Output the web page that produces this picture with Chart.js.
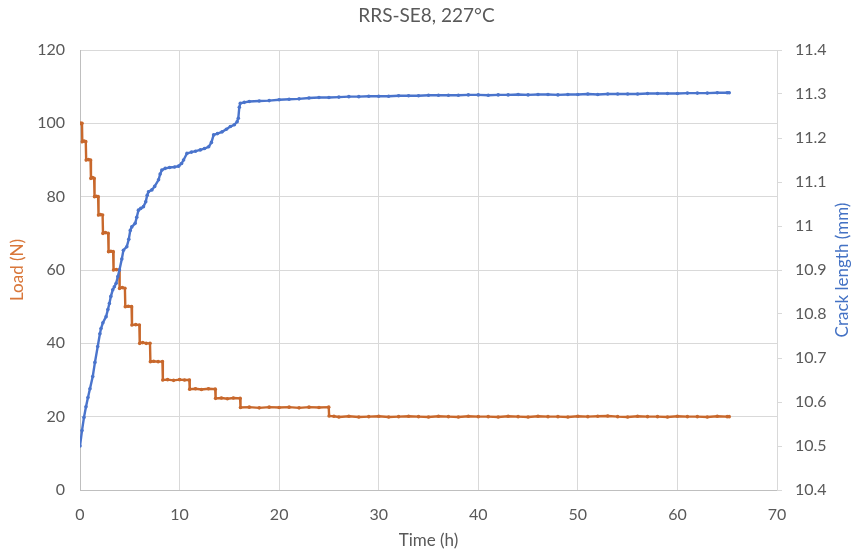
<!DOCTYPE html>
<html>
<head>
<meta charset="utf-8">
<script src="https://cdn.jsdelivr.net/npm/chart.js@4/dist/chart.umd.min.js"></script>
<style>
html,body{margin:0;padding:0;background:#fff;}
#c{display:block;}
</style>
</head>
<body>
<canvas id="c" width="853" height="555"></canvas>
<script>
// ---- data ----
const chartTitle = 'RRS-SE8, 227°C';
const xTitle = 'Time (h)';
const loadTitle = 'Load (N)';
const crackTitle = 'Crack length (mm)';

const timeTicks = [0, 10, 20, 30, 40, 50, 60, 70];
const loadTicks = [0, 20, 40, 60, 80, 100, 120];
const crackTicks = [10.4, 10.5, 10.6, 10.7, 10.8, 10.9, 11.0, 11.1, 11.2, 11.3, 11.4];

const loadTime = [
  0, 0.1, 0.2,
  0.23, 0.4, 0.58,
  0.62, 0.85, 1.06,
  1.1, 1.25, 1.42,
  1.46, 1.65, 1.82,
  1.86, 2.05, 2.27,
  2.31, 2.55, 2.83,
  2.87, 3.1, 3.33,
  3.37, 3.65, 3.94,
  3.98, 4.25, 4.51,
  4.55, 4.85, 5.18,
  5.22, 5.6, 5.96,
  6.0, 6.3, 6.65, 7.03,
  7.07, 7.4, 7.85, 8.28,
  8.32, 8.8, 9.4, 10.0, 10.5, 10.98,
  11.02, 11.6, 12.2, 12.9, 13.58,
  13.62, 14.2, 14.8, 15.4, 16.08,
  16.12, 17, 18, 19, 20, 21, 22, 23, 24, 24.98,
  25.02, 25.5, 26, 27, 28, 29, 30, 31, 32, 33, 34, 35, 36, 37, 38, 39, 40,
  41, 42, 43, 44, 45, 46, 47, 48, 49, 50, 51, 52, 53, 54, 55, 56, 57, 58,
  59, 60, 61, 62, 63, 64, 65, 65.2
];
const loadN = [
  100, 100, 100,
  95, 95.2, 95,
  90, 90.1, 90,
  85, 85.2, 85,
  80, 80.1, 80,
  75, 75.1, 75,
  70, 70.2, 70,
  65, 65.1, 65,
  60, 60.1, 60,
  55, 55.2, 55,
  50, 50.1, 50,
  45, 45.1, 45,
  40, 40.2, 40, 40,
  35, 35.1, 35, 35,
  30, 30.1, 29.9, 30.1, 30, 30,
  27.5, 27.6, 27.4, 27.6, 27.5,
  25, 25.1, 24.9, 25.1, 25,
  22.5, 22.6, 22.4, 22.6, 22.5, 22.6, 22.4, 22.6, 22.5, 22.6,
  20.2, 20.1, 19.9, 20.1, 19.9, 20.0, 20.1, 19.9, 20.0, 20.1, 20.0, 19.9, 20.1, 20.0, 19.9, 20.1, 20.0,
  20.0, 19.9, 20.1, 20.0, 19.9, 20.1, 20.0, 20.0, 19.9, 20.1, 20.0, 20.1, 20.2, 20.0, 19.9, 20.1, 20.0, 20.0,
  19.9, 20.1, 20.0, 20.0, 19.9, 20.1, 20.0, 20.0
];

const crackTime = [
  0, 0.2, 0.4, 0.6, 0.8, 1.0, 1.28, 1.5, 1.78, 2.0, 2.11, 2.3, 2.62, 2.8, 2.95,
  3.1, 3.29, 3.45, 3.63, 3.8, 3.96, 4.2, 4.36, 4.7, 4.9, 5.05, 5.2, 5.54, 5.7,
  5.87, 6.1, 6.37, 6.6, 6.75, 6.88, 7.22, 7.5, 7.89, 8.05, 8.22, 8.56, 9.0,
  9.5, 9.9, 10.2, 10.4, 10.74, 11.2, 11.6, 12.08, 12.5, 12.92, 13.2, 13.42,
  13.8, 14.27, 14.7, 15.1, 15.5, 15.78, 15.9, 16.0, 16.1, 16.5, 17, 18, 19,
  20, 21, 22, 23, 24, 25, 26, 27, 28, 29, 30, 31, 32, 33, 34, 35, 36, 37, 38,
  39, 40, 41, 42, 43, 44, 45, 46, 47, 48, 49, 50, 51, 52, 53, 54, 55, 56, 57,
  58, 59, 60, 61, 62, 63, 64, 65, 65.2
];
const crackMm = [
  10.500, 10.535, 10.565, 10.589, 10.610, 10.630, 10.658, 10.690, 10.726, 10.755, 10.767, 10.780, 10.794, 10.810, 10.824,
  10.840, 10.855, 10.862, 10.870, 10.885, 10.900, 10.925, 10.945, 10.953, 10.970, 10.990, 10.998, 11.006, 11.020,
  11.036, 11.040, 11.044, 11.055, 11.070, 11.078, 11.082, 11.090, 11.105, 11.118, 11.127, 11.131, 11.133,
  11.134, 11.136, 11.142, 11.150, 11.165, 11.168, 11.170, 11.173, 11.176, 11.180, 11.190, 11.207,
  11.210, 11.214, 11.220, 11.226, 11.230, 11.237, 11.245, 11.270, 11.279, 11.281, 11.283, 11.284, 11.285,
  11.287, 11.288, 11.289, 11.291, 11.292, 11.292, 11.293, 11.294, 11.294, 11.295, 11.295, 11.295, 11.296, 11.296, 11.296, 11.297, 11.297, 11.297, 11.297,
  11.298, 11.298, 11.297, 11.298, 11.298, 11.299, 11.298, 11.299, 11.299, 11.298, 11.299, 11.299, 11.300, 11.299, 11.300, 11.300, 11.300, 11.300, 11.301,
  11.301, 11.301, 11.301, 11.302, 11.302, 11.302, 11.303, 11.303, 11.303
];

// ---- styles ----
const FONT = 'Lato, "Open Sans", sans-serif';
const textGray = '#595959';
const gridGray = '#d9d9d9';
const orangeLine = '#C8682C';
const orangeText = '#D9773A';
const blueLine = '#4A74CC';
const blueText = '#4472C4';

const fixTicks = (arr) => (scale) => { scale.ticks = arr.map(v => ({ value: v })); };

const rightTitlePlugin = {
  id: 'rightTitle',
  afterDraw(chart) {
    const ctx = chart.ctx;
    const area = chart.chartArea;
    ctx.save();
    ctx.font = '17px ' + FONT;
    ctx.fillStyle = blueText;
    ctx.textAlign = 'center';
    ctx.textBaseline = 'middle';
    ctx.translate(843, (area.top + area.bottom) / 2);
    ctx.rotate(-Math.PI / 2);
    ctx.fillText(crackTitle, 0, 0);
    ctx.restore();
  }
};

new Chart(document.getElementById('c'), {
  type: 'line',
  data: {
    datasets: [
      {
        label: crackTitle,
        data: crackTime.map((t, i) => ({ x: t, y: crackMm[i] })),
        yAxisID: 'yCrack',
        borderColor: blueLine,
        backgroundColor: blueLine,
        borderWidth: 2.4,
        pointRadius: 1.8,
        pointBorderWidth: 0,
        pointHoverRadius: 0,
        tension: 0,
        order: 0
      },
      {
        label: loadTitle,
        data: loadTime.map((t, i) => ({ x: t, y: loadN[i] })),
        yAxisID: 'yLoad',
        borderColor: orangeLine,
        backgroundColor: orangeLine,
        borderWidth: 2.4,
        pointRadius: 1.8,
        pointBorderWidth: 0,
        pointHoverRadius: 0,
        tension: 0,
        order: 1
      }
    ]
  },
  options: {
    responsive: false,
    animation: false,
    events: [],
    layout: { padding: 0 },
    plugins: {
      legend: { display: false },
      tooltip: { enabled: false },
      title: {
        display: true,
        text: chartTitle,
        color: textGray,
        font: { family: FONT, size: 19, weight: 'normal' },
        padding: { top: 4.6, bottom: 22.6 }
      }
    },
    scales: {
      x: {
        type: 'linear',
        min: 0, max: 70,
        afterBuildTicks: fixTicks(timeTicks),
        ticks: { color: textGray, font: { family: FONT, size: 16 }, padding: 15.4 },
        grid: { color: gridGray, drawTicks: false },
        border: { color: '#bfbfbf' },
        title: { display: true, text: xTitle, color: textGray, font: { family: FONT, size: 17 }, padding: { top: 0, bottom: 3.8 } },
        afterFit: (s) => { s.height = 65; }
      },
      yLoad: {
        type: 'linear',
        position: 'left',
        min: 0, max: 120,
        afterBuildTicks: fixTicks(loadTicks),
        ticks: { color: textGray, font: { family: FONT, size: 16 }, padding: 15 },
        grid: { color: gridGray, drawTicks: false },
        border: { color: '#bfbfbf' },
        title: { display: true, text: loadTitle, color: orangeText, font: { family: FONT, size: 17 }, padding: { top: 7.8, bottom: 0 } },
        afterFit: (s) => { s.width = 80; }
      },
      yCrack: {
        type: 'linear',
        position: 'right',
        min: 10.4, max: 11.4,
        afterBuildTicks: fixTicks(crackTicks),
        ticks: {
          color: textGray, font: { family: FONT, size: 16 }, padding: 13,
          callback: (v) => String(Number(v.toFixed(1)))
        },
        grid: { color: gridGray, drawOnChartArea: false, drawTicks: true, tickLength: 5 },
        border: { color: gridGray },
        afterFit: (s) => { s.width = 76; }
      }
    }
  },
  plugins: [rightTitlePlugin]
});
</script>
</body>
</html>
